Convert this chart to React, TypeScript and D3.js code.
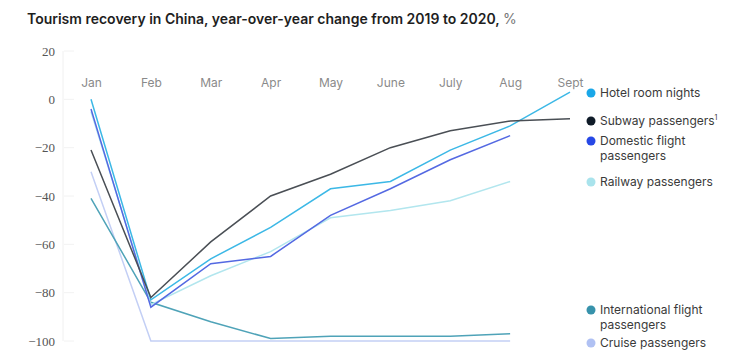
import React, { useEffect, useRef } from 'react';
import * as d3 from 'd3';

const months = ['Jan', 'Feb', 'Mar', 'Apr', 'May', 'June', 'July', 'Aug', 'Sept'];
const yTicks = [20, 0, -20, -40, -60, -80, -100];

const hotel = [0, -83, -66, -53, -37, -34, -21, -11, 3];
const subway = [-21, -82, -59, -40, -31, -20, -13, -9, -8];
const domestic = [-4, -86, -68, -65, -48, -37, -25, -15];
const railway = [-5, -85, -73, -63, -49, -46, -42, -34];
const international = [-41, -84, -92, -99, -98, -98, -98, -97];
const cruise = [-30, -100, -100, -100, -100, -100, -100, -100];

const series = [
  { name: ['Hotel room nights'], values: hotel, line: '#3cb8e6', dot: '#1aa7e8', ly: 93 },
  { name: ['Subway passengers'], sup: '1', values: subway, line: '#4a4f55', dot: '#0f1b28', ly: 121 },
  { name: ['Domestic flight', 'passengers'], values: domestic, line: '#5469e2', dot: '#2648e6', ly: 141 },
  { name: ['Railway passengers'], values: railway, line: '#b2e6ee', dot: '#a9e3ec', ly: 182 },
  { name: ['International flight', 'passengers'], values: international, line: '#4fa3b8', dot: '#3792ab', ly: 310 },
  { name: ['Cruise passengers'], values: cruise, line: '#c3cff5', dot: '#b0c1f3', ly: 343 },
];

const App = () => {
  const svgRef = useRef(null);

  useEffect(() => {
    document.body.style.margin = '0';
    const svg = d3.select(svgRef.current);
    svg.selectAll('*').remove();

    const x = d3.scalePoint().domain(months).range([91, 570]);
    const y = d3.scaleLinear().domain([-100, 20]).range([341, 51]);

    svg.append('text')
      .attr('x', 27).attr('y', 24)
      .attr('font-family', 'Inter, "Noto Sans", sans-serif')
      .attr('font-size', 14).attr('font-weight', 600).attr('fill', '#1e1e1e')
      .text('Tourism recovery in China, year-over-year change from 2019 to 2020, ')
      .append('tspan').attr('font-weight', 400).attr('fill', '#777').text('%');

    // faint axis line and ticks
    svg.append('line')
      .attr('x1', 63).attr('x2', 63).attr('y1', y(20)).attr('y2', y(-100))
      .attr('stroke', '#f0f0f0');
    const ya = svg.append('g').attr('transform', 'translate(63,0)')
      .call(d3.axisLeft(y).tickValues(yTicks).tickSize(0).tickPadding(8)
        .tickFormat(d => (d < 0 ? '\u2212' + Math.abs(d) : String(d))));
    ya.select('.domain').remove();
    ya.attr('font-family', null);
    ya.selectAll('text')
      .style('font-family', '"Liberation Serif", "DejaVu Serif", serif').attr('font-size', 13).attr('fill', '#555');
    svg.append('g').selectAll('line').data(yTicks).join('line')
      .attr('x1', 64).attr('x2', 74).attr('y1', d => y(d)).attr('y2', d => y(d))
      .attr('stroke', '#f2f2f2');

    const xa = svg.append('g').attr('transform', `translate(0,${y(0) - 12})`)
      .call(d3.axisTop(x).tickSize(0).tickPadding(0));
    xa.select('.domain').remove();
    xa.selectAll('text')
      .attr('font-family', 'Inter, "Noto Sans", sans-serif').attr('font-size', 12).attr('fill', '#8a8a8a');

    const line = d3.line<number>().x((_, i) => x(months[i])).y(d => y(d));

    const order = [5, 4, 3, 2, 0, 1];
    order.forEach(k => {
      const s = series[k];
      svg.append('path')
        .attr('d', line(s.values))
        .attr('fill', 'none').attr('stroke', s.line).attr('stroke-width', 1.5);
    });

    const leg = svg.append('g');
    series.forEach(s => {
      leg.append('circle').attr('cx', 591).attr('cy', s.ly).attr('r', 4.5).attr('fill', s.dot);
      const t = leg.append('text')
        .attr('x', 600).attr('y', s.ly + 4)
        .attr('font-family', 'Inter, "Noto Sans", sans-serif').attr('font-size', 12).attr('fill', '#3a3a3a');
      s.name.forEach((n, i) => {
        t.append('tspan').attr('x', 600).attr('dy', i === 0 ? 0 : 15).text(n);
      });
      if (s.sup) {
        t.append('tspan').attr('dy', -5).attr('font-size', 7).text(s.sup);
      }
    });
  }, []);

  return <svg ref={svgRef} width={737} height={362} style={{ display: 'block' }}></svg>;
};

export default App;
